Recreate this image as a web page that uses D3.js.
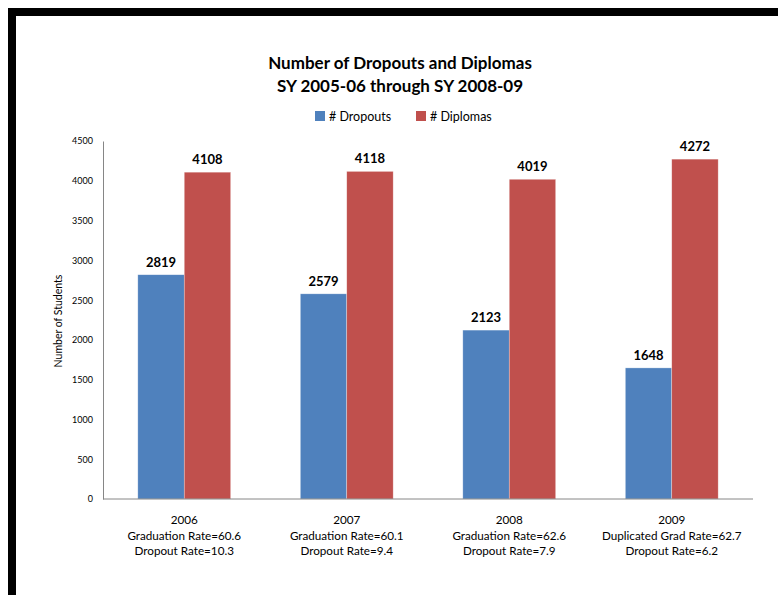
<!DOCTYPE html>
<html>
  <head>
    <meta charset="UTF-8">
    <title>Number of Dropouts and Diplomas</title>
    <script src="https://d3js.org/d3.v7.min.js"></script>
    <style>
      body { margin: 0; background: #fff; }
      text { font-family: Lato, "Noto Sans", sans-serif; fill: #000; }
    </style>
  </head>

  <body>
    <div class="chart"></div>

    <script type="application/javascript">
      const years = ["2006", "2007", "2008", "2009"];
      const gradLines = ["Graduation Rate=60.6", "Graduation Rate=60.1", "Graduation Rate=62.6", "Duplicated Grad Rate=62.7"];
      const dropLines = ["Dropout Rate=10.3", "Dropout Rate=9.4", "Dropout Rate=7.9", "Dropout Rate=6.2"];
      const dropouts = [2819, 2579, 2123, 1648];
      const diplomas = [4108, 4118, 4019, 4272];
      const seriesNames = ["# Dropouts", "# Diplomas"];
      const colors = ["#4f81bd", "#c0504d"];
      const yTicks = [0, 500, 1000, 1500, 2000, 2500, 3000, 3500, 4000, 4500];

      const W = 778, H = 595;
      const svg = d3.select(".chart").append("svg")
              .attr("width", W)
              .attr("height", H)

      // frame edges (top and left)
      svg.append("rect").attr("x", 8).attr("y", 8).attr("width", W - 8).attr("height", 8).attr("fill", "#000")
      svg.append("rect").attr("x", 8).attr("y", 8).attr("width", 8).attr("height", H - 8).attr("fill", "#000")

      const pLeft = 103, pRight = 753, pTop = 141, pBottom = 499;

      const x = d3.scaleBand().domain(years).range([pLeft, pRight]).paddingInner(0).paddingOuter(0);
      const bw = x.bandwidth() / 3.5;
      const inner = d3.scaleBand().domain(seriesNames).range([0, bw * 2]);
      const y = d3.scaleLinear().domain([0, 4500]).range([pBottom, pTop]);

      // title
      const title = svg.append("text")
              .attr("x", 400).attr("y", 69)
              .attr("text-anchor", "middle")
              .style("font-size", "17px").style("font-weight", "bold")
      title.append("tspan").attr("x", 400).text("Number of Dropouts and Diplomas")
      title.append("tspan").attr("x", 400).attr("dy", 23).text("SY 2005-06 through SY 2008-09")

      // legend
      const legendX = [315, 416];
      seriesNames.forEach((name, i) => {
        svg.append("rect").attr("x", legendX[i]).attr("y", 111).attr("width", 10).attr("height", 10).attr("fill", colors[i])
        svg.append("text").attr("x", legendX[i] + 14).attr("y", 120.5)
                .style("font-size", "12.5px").text(name)
      })

      // y axis
      const yAxis = d3.axisLeft(y).tickValues(yTicks).tickSize(0).tickPadding(10).tickFormat(d3.format("d"));
      const yg = svg.append("g").attr("transform", `translate(${pLeft},0)`).call(yAxis)
      yg.select(".domain").attr("stroke", "#868686")
      yg.selectAll("text").style("font-size", "9px").style("font-family", "Lato, sans-serif")

      svg.append("text")
              .attr("transform", `translate(62, 321) rotate(-90)`)
              .attr("text-anchor", "middle")
              .style("font-size", "10.5px")
              .text("Number of Students")

      // bars
      const data = years.map((yr, i) => ({ yr, values: [dropouts[i], diplomas[i]] }));
      const groups = svg.selectAll(".grp").data(data).join("g")
              .attr("class", "grp")
              .attr("transform", d => `translate(${x(d.yr) + bw * 0.75},0)`)

      groups.selectAll("rect").data(d => d.values.map((v, i) => ({ v, i }))).join("rect")
              .attr("x", d => inner(seriesNames[d.i]))
              .attr("y", d => y(d.v))
              .attr("width", inner.bandwidth())
              .attr("height", d => pBottom - y(d.v))
              .attr("fill", d => colors[d.i])
              .attr("stroke", "#fff")
              .attr("stroke-opacity", 0.5)
              .attr("stroke-width", 0.6)

      groups.selectAll(".val").data(d => d.values.map((v, i) => ({ v, i }))).join("text")
              .attr("class", "val")
              .attr("x", d => inner(seriesNames[d.i]) + inner.bandwidth() / 2)
              .attr("y", d => y(d.v) - 8)
              .attr("text-anchor", "middle")
              .style("font-size", "13px").style("font-weight", "bold")
              .text(d => d.v)

      // x axis
      svg.append("line").attr("x1", pLeft).attr("x2", pRight).attr("y1", pBottom).attr("y2", pBottom)
              .attr("stroke", "#868686")

      years.forEach((yr, i) => {
        const cx = x(yr) + x.bandwidth() / 2;
        const t = svg.append("text").attr("text-anchor", "middle").attr("y", 524).style("font-size", "11.7px")
        t.append("tspan").attr("x", cx).text(yr)
        t.append("tspan").attr("x", cx).attr("dy", 16).text(gradLines[i])
        t.append("tspan").attr("x", cx).attr("dy", 15).text(dropLines[i])
      })
    </script>
  </body>

</html>
